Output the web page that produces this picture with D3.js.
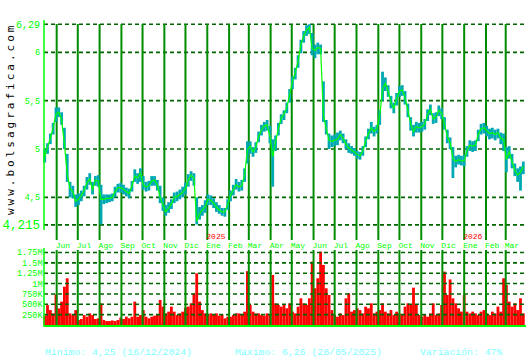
<!DOCTYPE html>
<html>
<head>
<meta charset="utf-8">
<script src="https://cdnjs.cloudflare.com/ajax/libs/d3/7.8.5/d3.min.js"></script>
<style>
body { margin: 0; background: #fff; }
svg { display: block; font-family: "Liberation Mono", "DejaVu Sans Mono", monospace; }
</style>
</head>
<body>
<svg id="chart" width="530" height="360"></svg>
<script>
// sample dates (every 4 days)
var dates = [
  "2024-05-15","2024-05-19","2024-05-23","2024-05-27","2024-05-31",
  "2024-06-04","2024-06-08","2024-06-12","2024-06-16","2024-06-20","2024-06-24","2024-06-28",
  "2024-07-02","2024-07-06","2024-07-10","2024-07-14","2024-07-18","2024-07-22","2024-07-26","2024-07-30",
  "2024-08-03","2024-08-07","2024-08-11","2024-08-15","2024-08-19","2024-08-23","2024-08-27","2024-08-31",
  "2024-09-04","2024-09-08","2024-09-12","2024-09-16","2024-09-20","2024-09-24","2024-09-28",
  "2024-10-02","2024-10-06","2024-10-10","2024-10-14","2024-10-18","2024-10-22","2024-10-26","2024-10-30",
  "2024-11-03","2024-11-07","2024-11-11","2024-11-15","2024-11-19","2024-11-23","2024-11-27",
  "2024-12-01","2024-12-05","2024-12-09","2024-12-13","2024-12-17","2024-12-21","2024-12-25","2024-12-29",
  "2025-01-02","2025-01-06","2025-01-10","2025-01-14","2025-01-18","2025-01-22","2025-01-26","2025-01-30",
  "2025-02-03","2025-02-07","2025-02-11","2025-02-15","2025-02-19","2025-02-23","2025-02-27",
  "2025-03-03","2025-03-07","2025-03-11","2025-03-15","2025-03-19","2025-03-23","2025-03-27","2025-03-31",
  "2025-04-04","2025-04-08","2025-04-12","2025-04-16","2025-04-20","2025-04-24","2025-04-28",
  "2025-05-02","2025-05-06","2025-05-10","2025-05-14","2025-05-18","2025-05-22","2025-05-26","2025-05-30",
  "2025-06-03","2025-06-07","2025-06-11","2025-06-15","2025-06-19","2025-06-23","2025-06-27",
  "2025-07-01","2025-07-05","2025-07-09","2025-07-13","2025-07-17","2025-07-21","2025-07-25","2025-07-29",
  "2025-08-02","2025-08-06","2025-08-10","2025-08-14","2025-08-18","2025-08-22","2025-08-26","2025-08-30",
  "2025-09-03","2025-09-07","2025-09-11","2025-09-15","2025-09-19","2025-09-23","2025-09-27",
  "2025-10-01","2025-10-05","2025-10-09","2025-10-13","2025-10-17","2025-10-21","2025-10-25","2025-10-29",
  "2025-11-02","2025-11-06","2025-11-10","2025-11-14","2025-11-18","2025-11-22","2025-11-26","2025-11-30",
  "2025-12-04","2025-12-08","2025-12-12","2025-12-16","2025-12-20","2025-12-24","2025-12-28",
  "2026-01-01","2026-01-05","2026-01-09","2026-01-13","2026-01-17","2026-01-21","2026-01-25","2026-01-29",
  "2026-02-02","2026-02-06","2026-02-10","2026-02-14","2026-02-18","2026-02-22","2026-02-26",
  "2026-03-02","2026-03-06","2026-03-10","2026-03-14","2026-03-18","2026-03-22","2026-03-26"
];

var closes = [
  4.92,5.02,5.11,5.22,5.36,5.38,5.30,5.05,4.74,4.59,
  4.56,4.46,4.48,4.52,4.57,4.65,4.69,4.58,4.68,4.67,
  4.48,4.48,4.49,4.49,4.50,4.56,4.60,4.60,4.58,4.56,
  4.54,4.62,4.72,4.70,4.75,4.63,4.61,4.62,4.67,4.68,
  4.63,4.50,4.42,4.35,4.39,4.43,4.50,4.51,4.53,4.55,
  4.59,4.68,4.73,4.70,4.25,4.33,4.37,4.40,4.48,4.47,
  4.44,4.40,4.37,4.35,4.35,4.43,4.52,4.58,4.63,4.61,
  4.62,4.73,4.99,5.03,4.97,5.02,5.13,5.20,5.24,5.25,
  5.13,4.92,5.07,5.21,5.32,5.36,5.43,5.56,5.70,5.79,
  5.91,6.08,6.17,6.23,6.26,6.04,6.02,6.05,6.04,5.35,
  5.21,5.09,5.08,5.09,5.10,5.15,5.11,5.05,5.01,4.99,
  4.97,4.94,4.93,4.98,5.08,5.16,5.22,5.18,5.21,5.34,
  5.62,5.68,5.60,5.48,5.42,5.52,5.60,5.61,5.53,5.40,
  5.26,5.18,5.23,5.22,5.23,5.26,5.36,5.41,5.31,5.33,
  5.40,5.37,5.26,5.13,5.07,4.90,4.87,4.89,4.88,4.88,
  4.98,5.04,5.03,5.04,5.15,5.21,5.22,5.19,5.16,5.17,
  5.15,5.17,5.11,5.10,4.89,4.97,4.87,4.78,4.73,4.76,
  4.82
];

var highs = [
  5.00,5.06,5.16,5.27,5.43,5.43,5.38,5.22,4.95,4.66,
  4.62,4.53,4.54,4.57,4.62,4.71,4.75,4.66,4.72,4.73,
  4.63,4.53,4.53,4.53,4.54,4.61,4.64,4.65,4.63,4.60,
  4.59,4.67,4.79,4.75,4.80,4.72,4.66,4.67,4.72,4.72,
  4.68,4.62,4.50,4.42,4.45,4.48,4.55,4.56,4.58,4.61,
  4.65,4.74,4.77,4.75,4.50,4.40,4.42,4.47,4.53,4.52,
  4.49,4.45,4.42,4.39,4.39,4.48,4.57,4.63,4.69,4.66,
  4.68,4.80,5.08,5.08,5.02,5.07,5.18,5.25,5.28,5.30,
  5.24,5.10,5.14,5.27,5.36,5.40,5.48,5.62,5.75,5.84,
  5.97,6.13,6.22,6.28,6.29,6.20,6.08,6.10,6.08,5.70,
  5.30,5.16,5.14,5.15,5.17,5.19,5.16,5.10,5.06,5.03,
  5.01,4.98,4.97,5.03,5.13,5.21,5.28,5.23,5.25,5.40,
  5.80,5.74,5.66,5.55,5.48,5.58,5.65,5.66,5.60,5.47,
  5.33,5.25,5.28,5.27,5.28,5.31,5.41,5.46,5.37,5.38,
  5.45,5.42,5.33,5.20,5.12,5.02,4.93,4.94,4.93,4.94,
  5.03,5.09,5.08,5.09,5.20,5.26,5.27,5.24,5.21,5.22,
  5.20,5.21,5.17,5.16,5.02,5.03,4.95,4.85,4.80,4.82,
  4.87
];

var lows = [
  4.86,4.95,5.05,5.15,5.28,5.33,5.25,5.00,4.66,4.50,
  4.49,4.40,4.42,4.46,4.51,4.58,4.63,4.53,4.62,4.61,
  4.22,4.43,4.44,4.45,4.46,4.50,4.55,4.55,4.53,4.51,
  4.49,4.56,4.66,4.64,4.66,4.58,4.56,4.57,4.62,4.62,
  4.57,4.44,4.36,4.31,4.34,4.38,4.44,4.46,4.48,4.50,
  4.53,4.61,4.67,4.62,4.22,4.27,4.31,4.34,4.42,4.42,
  4.39,4.35,4.33,4.31,4.30,4.37,4.46,4.52,4.58,4.56,
  4.57,4.66,4.85,4.95,4.92,4.96,5.07,5.14,5.18,5.19,
  5.06,4.61,4.98,5.14,5.26,5.30,5.37,5.48,5.62,5.72,
  5.84,5.99,6.10,6.17,6.19,5.97,5.94,5.98,5.98,5.28,
  5.15,5.00,5.02,5.03,5.04,5.09,5.06,5.00,4.96,4.95,
  4.93,4.90,4.89,4.93,5.02,5.10,5.16,5.13,5.16,5.25,
  5.50,5.60,5.54,5.42,5.37,5.45,5.54,5.55,5.46,5.33,
  5.19,5.13,5.17,5.17,5.18,5.20,5.29,5.35,5.26,5.27,
  5.34,5.31,5.20,5.06,5.00,4.70,4.81,4.84,4.83,4.82,
  4.92,4.98,4.97,4.98,5.08,5.15,5.16,5.13,5.10,5.11,
  5.09,5.11,5.05,4.98,4.76,4.90,4.80,4.72,4.66,4.57,
  4.74
];

// volume in thousands of shares
var volumes = [
  225,480,360,280,740,400,564,925,1127,280,
  240,360,120,145,240,200,280,240,145,161,
  520,120,95,95,110,95,120,177,145,200,
  161,200,564,200,240,360,200,161,200,225,
  240,604,443,280,322,443,322,240,280,322,
  420,443,523,765,1248,564,360,280,240,280,
  240,280,225,257,161,200,200,240,280,280,
  240,322,1300,483,322,280,280,240,225,280,
  240,1208,523,483,443,483,403,523,322,280,
  443,644,523,483,644,1530,886,1127,1770,1450,
  886,725,360,240,200,280,240,644,765,322,
  360,403,360,280,443,403,523,280,322,360,
  523,322,280,360,240,322,280,240,443,523,
  483,900,483,240,200,240,200,280,523,240,
  280,483,1288,725,1100,644,523,403,322,725,
  322,280,322,280,240,322,360,280,240,322,
  280,443,322,1127,966,564,443,523,360,644,
  280
];

var priceTicks = [6.29, 6, 5.5, 5, 4.5, 4.215];
var priceTickLabels = ["6,29", "6", "5,5", "5", "4,5", "4,215"];
var priceTickSizes = [10, 8.5, 8.5, 8.5, 8.5, 12.5];
var volumeTicks = [1750, 1500, 1250, 1000, 750, 500, 250];
var volumeTickLabels = ["1.75M", "1.5M", "1.25M", "1M", "750K", "500K", "250K"];
var monthNames = ["Ene", "Feb", "Mar", "Abr", "May", "Jun", "Jul", "Ago", "Sep", "Oct", "Nov", "Dic"];
var footerTexts = ["Minimo: 4,25 (16/12/2024)", "Maximo: 6,26 (28/05/2025)", "Variación: 47%"];
var footerX = [45, 235, 420];
var siteName = "www.bolsagrafica.com";

var svg = d3.select("#chart");
var parseDate = d3.timeParse("%Y-%m-%d");

var data = dates.map(function(d, i) {
    return {date: parseDate(d), close: closes[i], high: highs[i], low: lows[i], vol: volumes[i]};
});

var left = 44, right = 524;

var x = d3.scaleTime()
    .domain([new Date(2024, 4, 14), new Date(2026, 2, 27)])
    .range([left, right]);

var y = d3.scaleLinear()
    .domain([4.215, 6.29])
    .range([224.9, 24.3]);

var yVol = d3.scaleLinear()
    .domain([0, 1750])
    .range([325, 252.5]);

svg.append("rect").attr("width", 530).attr("height", 360).attr("fill", "#fff");

// watermark
svg.append("text")
    .attr("transform", "translate(14,215) rotate(-90)")
    .attr("font-family", "DejaVu Sans Mono")
    .attr("font-size", 11)
    .attr("letter-spacing", 3)
    .attr("fill", "#000")
    .text(siteName);

var months = x.ticks(d3.timeMonth.every(1));

// price grid
svg.selectAll(".hgrid")
    .data(priceTicks)
    .enter()
    .append("line")
    .attr("x1", left).attr("x2", 527)
    .attr("y1", function(d) { return y(d); })
    .attr("y2", function(d) { return y(d); })
    .attr("stroke", "#006400")
    .attr("stroke-width", 1.6)
    .attr("stroke-dasharray", "4,3");

svg.selectAll(".vgrid")
    .data(months)
    .enter()
    .append("line")
    .attr("x1", function(d) { return x(d); })
    .attr("x2", function(d) { return x(d); })
    .attr("y1", 24).attr("y2", 240)
    .attr("stroke", "#008c00")
    .attr("stroke-width", 2);

// high-low bars
svg.selectAll(".hl")
    .data(data)
    .enter()
    .append("line")
    .attr("x1", function(d) { return x(d.date); })
    .attr("x2", function(d) { return x(d.date); })
    .attr("y1", function(d) { return y(d.high); })
    .attr("y2", function(d) { return y(d.low); })
    .attr("stroke", "#00a8b4")
    .attr("stroke-width", 2.8);

// close line
var closeLine = d3.line()
    .x(function(d) { return x(d.date); })
    .y(function(d) { return y(d.close); });

svg.append("path")
    .datum(data)
    .attr("d", closeLine)
    .attr("fill", "none")
    .attr("stroke", "#00ff00")
    .attr("stroke-width", 1.2);

// price axis
svg.append("line")
    .attr("x1", left).attr("x2", left)
    .attr("y1", 20).attr("y2", 230)
    .attr("stroke", "#00ff00").attr("stroke-width", 1.5);

svg.selectAll(".plabel")
    .data(priceTicks)
    .enter()
    .append("text")
    .attr("x", 40)
    .attr("y", function(d) { return y(d); })
    .attr("dy", "0.35em")
    .attr("text-anchor", "end")
    .attr("font-size", function(d, i) { return priceTickSizes[i]; })
    .attr("fill", "#00ff00")
    .text(function(d, i) { return priceTickLabels[i]; });

// month labels
svg.selectAll(".mlabel")
    .data(months)
    .enter()
    .append("text")
    .attr("x", function(d) { return x(d) - 1; })
    .attr("y", 247.5)
    .attr("font-size", 8)
    .attr("fill", "#00ff00")
    .text(function(d) { return monthNames[d.getMonth()]; });

svg.selectAll(".ylabel")
    .data(months.filter(function(d) { return d.getMonth() === 0; }))
    .enter()
    .append("text")
    .attr("x", function(d) { return x(d) - 1; })
    .attr("y", 238.5)
    .attr("font-size", 8)
    .attr("fill", "#ff0000")
    .text(function(d) { return d.getFullYear(); });

// volume bars
svg.selectAll(".vol")
    .data(data)
    .enter()
    .append("rect")
    .attr("x", function(d) { return x(d.date) - 1.4; })
    .attr("width", 2.8)
    .attr("y", function(d) { return yVol(d.vol); })
    .attr("height", function(d) { return yVol(0) - yVol(d.vol); })
    .attr("fill", "#ff0000");

svg.selectAll(".vhgrid")
    .data(volumeTicks)
    .enter()
    .append("line")
    .attr("x1", left).attr("x2", 527)
    .attr("y1", function(d) { return yVol(d); })
    .attr("y2", function(d) { return yVol(d); })
    .attr("stroke", "#006400")
    .attr("stroke-width", 1.6)
    .attr("stroke-dasharray", "4,3");

svg.selectAll(".vvgrid")
    .data(months)
    .enter()
    .append("line")
    .attr("x1", function(d) { return x(d); })
    .attr("x2", function(d) { return x(d); })
    .attr("y1", 250).attr("y2", 325)
    .attr("stroke", "#008c00")
    .attr("stroke-width", 2);

svg.append("line")
    .attr("x1", left).attr("x2", left)
    .attr("y1", 248).attr("y2", 327)
    .attr("stroke", "#00ff00").attr("stroke-width", 1.5);

svg.append("line")
    .attr("x1", left).attr("x2", 526)
    .attr("y1", 326).attr("y2", 326)
    .attr("stroke", "#00ff00").attr("stroke-width", 2);

svg.selectAll(".vlabel")
    .data(volumeTicks)
    .enter()
    .append("text")
    .attr("x", 42.5)
    .attr("y", function(d) { return yVol(d); })
    .attr("dy", "0.35em")
    .attr("text-anchor", "end")
    .attr("font-size", 8.5)
    .attr("fill", "#00ff00")
    .text(function(d, i) { return volumeTickLabels[i]; });

// footer
svg.selectAll(".footer")
    .data(footerTexts)
    .enter()
    .append("text")
    .attr("x", function(d, i) { return footerX[i]; })
    .attr("y", 354.5)
    .attr("font-size", 9.8)
    .attr("fill", "#80ffff")
    .text(function(d) { return d; });
</script>
</body>
</html>
